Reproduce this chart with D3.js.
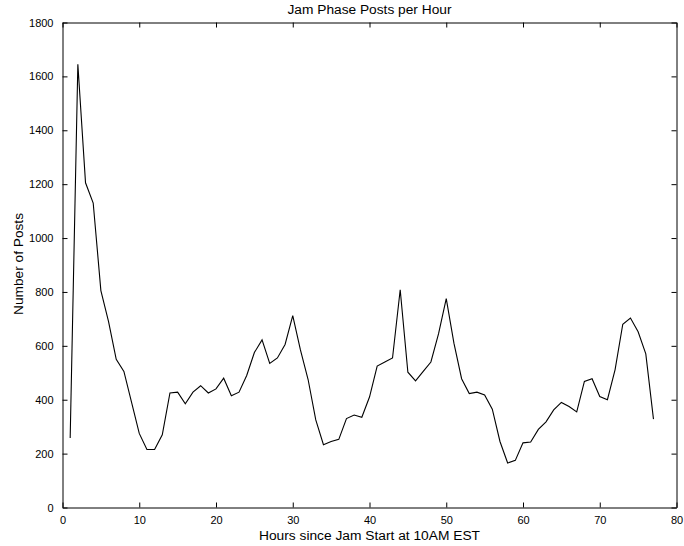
<!DOCTYPE html>
<html>
<head>
<meta charset="utf-8">
<script src="https://cdn.jsdelivr.net/npm/d3@7"></script>
<style>
  body { margin: 0; background: #fff; }
  svg { display: block; font-family: "Liberation Sans", Arial, sans-serif; }
</style>
</head>
<body>
<svg width="684" height="546"></svg>
<script>
// hours since jam start, and posts in each hour
let hours = d3.range(1, 78);
let posts = [258, 1645, 1205, 1130, 805, 690, 550, 505, 390, 275,
             215, 215, 270, 425, 428, 385, 428, 452, 425, 440,
             480, 415, 428, 490, 575, 622, 535, 555, 605, 712,
             585, 475, 325, 233, 245, 253, 330, 343, 335, 410,
             525, 540, 555, 808, 502, 470, 505, 540, 645, 775,
             610, 478, 423, 428, 418, 365, 245, 165, 175, 240,
             243, 290, 318, 362, 390, 375, 355, 468, 478, 412,
             400, 512, 680, 703, 652, 570, 328];
let xTicks = [0, 10, 20, 30, 40, 50, 60, 70, 80];
let yTicks = [0, 200, 400, 600, 800, 1000, 1200, 1400, 1600, 1800];

let pxL = 62.5, pxR = 676.5, pxT = 22.5, pxB = 507.5;

let svg = d3.select("svg");

let scX = d3.scaleLinear().domain([0, 80]).range([pxL, pxR]);
let scY = d3.scaleLinear().domain([0, 1800]).range([pxB, pxT]);

// axes with inward ticks, matlab-style box
svg.append("g")
   .attr("transform", `translate(0,${pxB})`)
   .call(d3.axisBottom(scX).tickValues(xTicks).tickFormat(d3.format("d"))
           .tickSize(-5).tickPadding(9).tickSizeOuter(0));
svg.append("g")
   .attr("transform", `translate(0,${pxT})`)
   .call(d3.axisTop(scX).tickValues(xTicks).tickSize(-5).tickFormat("").tickSizeOuter(0));
svg.append("g")
   .attr("transform", `translate(${pxL},0)`)
   .call(d3.axisLeft(scY).tickValues(yTicks).tickFormat(d3.format("d"))
           .tickSize(-5).tickPadding(9).tickSizeOuter(0));
svg.append("g")
   .attr("transform", `translate(${pxR},0)`)
   .call(d3.axisRight(scY).tickValues(yTicks).tickSize(-5).tickFormat("").tickSizeOuter(0));

svg.selectAll(".tick text")
   .attr("font-size", 11).attr("fill", "#000")
   .attr("font-family", "Liberation Sans, Arial, sans-serif");
svg.selectAll(".domain").attr("stroke", "#000");
svg.selectAll(".tick line").attr("stroke", "#000");

let lineMaker = d3.line()
                  .x((d, i) => scX(hours[i]))
                  .y(d => scY(d));
svg.append("path")
   .attr("fill", "none").attr("stroke", "#000").attr("stroke-width", 1.1)
   .attr("d", lineMaker(posts));

let midX = (pxL + pxR) / 2;
let labels = [
  { t: "Jam Phase Posts per Hour", x: midX, y: 13.5, w: 164, rot: false },
  { t: "Hours since Jam Start at 10AM EST", x: midX, y: 540, w: 221, rot: false },
  { t: "Number of Posts", x: 22.5, y: 264, w: 102, rot: true }
];
labels.forEach(l => {
  svg.append("text")
     .attr("transform", l.rot ? `translate(${l.x},${l.y}) rotate(-90)` : `translate(${l.x},${l.y})`)
     .attr("text-anchor", "middle").attr("font-size", 12.5)
     .attr("lengthAdjust", "spacingAndGlyphs").attr("textLength", l.w)
     .text(l.t);
});
</script>
</body>
</html>
